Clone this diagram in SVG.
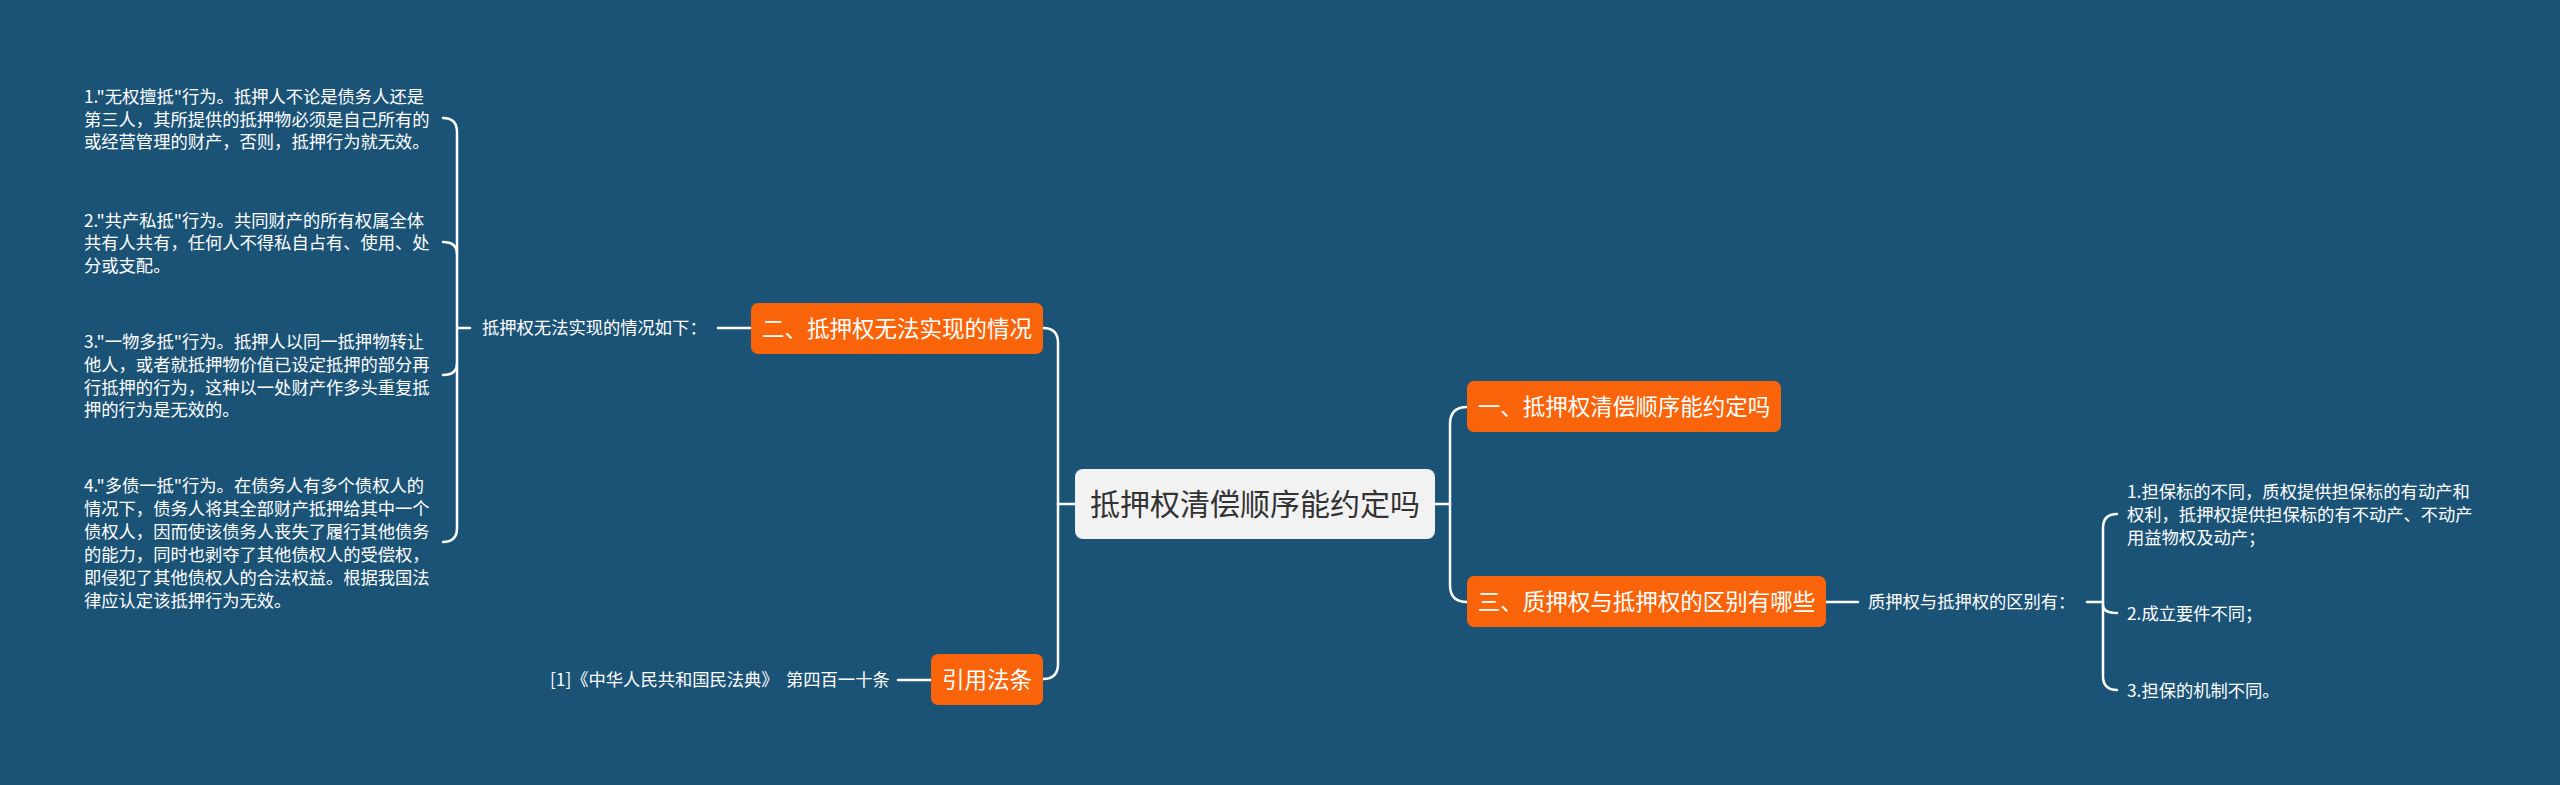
<svg xmlns="http://www.w3.org/2000/svg" width="2560" height="785" viewBox="0 0 2560 785">
<style>
text{font-family:"Noto Sans CJK SC","Microsoft YaHei",sans-serif;fill:#ffffff}
.s{font-size:17.3px}
.m{font-size:22.5px}
.c{font-size:30px;fill:#333333}
.o{fill:#f9640a}
.ln{fill:none;stroke:#ffffff;stroke-width:2.5;stroke-linecap:round}
</style>
<rect x="0" y="0" width="2560" height="785" fill="#1b5377"/>
<g id="connectors">
<path class="ln" d="M1075,504 H1058"/>
<path class="ln" d="M1043,328 Q1058,328 1058,343 V664 Q1058,679 1043,679"/>
<path class="ln" d="M1435,504 H1450"/>
<path class="ln" d="M1467,407 Q1450,407 1450,424 V585 Q1450,602 1467,602"/>
<path class="ln" d="M718,328 H751"/>
<path class="ln" d="M470,328 H457"/>
<path class="ln" d="M443,118 Q457,118 457,132 V528 Q457,542 443,542"/>
<path class="ln" d="M443,242 Q457,242 457,254"/>
<path class="ln" d="M443,375 Q457,375 457,363"/>
<path class="ln" d="M898,680 H931"/>
<path class="ln" d="M1826,602 H1858"/>
<path class="ln" d="M2087,602 H2103"/>
<path class="ln" d="M2117,514 Q2103,514 2103,528 V676 Q2103,690 2117,690"/>
<path class="ln" d="M2117,613 Q2103,613 2103,605"/>
</g>
<g id="center">
<rect x="1075" y="469" width="360" height="70" rx="8" fill="#f2f2f2"/>
<text class="c" x="1255" y="515" text-anchor="middle">抵押权清偿顺序能约定吗</text>
</g>
<g id="n2">
<rect class="o" x="751" y="303" width="292" height="51" rx="7"/>
<text class="m" x="897" y="337" text-anchor="middle">二、抵押权无法实现的情况</text>
</g>
<g id="n2-label">
<text class="s" x="482" y="334">抵押权无法实现的情况如下：</text>
</g>
<g id="n2-item1">
<text class="s" x="84" y="103">1."无权擅抵"行为。抵押人不论是债务人还是</text>
<text class="s" x="84" y="125.5">第三人，其所提供的抵押物必须是自己所有的</text>
<text class="s" x="84" y="148">或经营管理的财产，否则，抵押行为就无效。</text>
</g>
<g id="n2-item2">
<text class="s" x="84" y="226.5">2."共产私抵"行为。共同财产的所有权属全体</text>
<text class="s" x="84" y="249">共有人共有，任何人不得私自占有、使用、处</text>
<text class="s" x="84" y="271.5">分或支配。</text>
</g>
<g id="n2-item3">
<text class="s" x="84" y="348">3."一物多抵"行为。抵押人以同一抵押物转让</text>
<text class="s" x="84" y="370.8">他人，或者就抵押物价值已设定抵押的部分再</text>
<text class="s" x="84" y="393.6">行抵押的行为，这种以一处财产作多头重复抵</text>
<text class="s" x="84" y="416.4">押的行为是无效的。</text>
</g>
<g id="n2-item4">
<text class="s" x="84" y="491.5">4."多债一抵"行为。在债务人有多个债权人的</text>
<text class="s" x="84" y="514.5">情况下，债务人将其全部财产抵押给其中一个</text>
<text class="s" x="84" y="537.5">债权人，因而使该债务人丧失了履行其他债务</text>
<text class="s" x="84" y="560.5">的能力，同时也剥夺了其他债权人的受偿权，</text>
<text class="s" x="84" y="583.5">即侵犯了其他债权人的合法权益。根据我国法</text>
<text class="s" x="84" y="606.5">律应认定该抵押行为无效。</text>
</g>
<g id="n-cite">
<rect class="o" x="931" y="654" width="112" height="51" rx="7"/>
<text class="m" x="987" y="688" text-anchor="middle">引用法条</text>
</g>
<g id="n-cite-label">
<text class="s" x="550" y="686">[1]《中华人民共和国民法典》<tspan x="786">第四百一十条</tspan></text>
</g>
<g id="n1">
<rect class="o" x="1467" y="381" width="314" height="51" rx="7"/>
<text class="m" x="1624" y="415" text-anchor="middle">一、抵押权清偿顺序能约定吗</text>
</g>
<g id="n3">
<rect class="o" x="1467" y="576" width="359" height="51" rx="7"/>
<text class="m" x="1646.5" y="610" text-anchor="middle">三、质押权与抵押权的区别有哪些</text>
</g>
<g id="n3-label">
<text class="s" x="1868" y="608">质押权与抵押权的区别有：</text>
</g>
<g id="n3-item1">
<text class="s" x="2127" y="498">1.担保标的不同，质权提供担保标的有动产和</text>
<text class="s" x="2127" y="521">权利，抵押权提供担保标的有不动产、不动产</text>
<text class="s" x="2127" y="544">用益物权及动产；</text>
</g>
<g id="n3-item2">
<text class="s" x="2127" y="619.5">2.成立要件不同；</text>
</g>
<g id="n3-item3">
<text class="s" x="2127" y="696.5">3.担保的机制不同。</text>
</g>
</svg>
